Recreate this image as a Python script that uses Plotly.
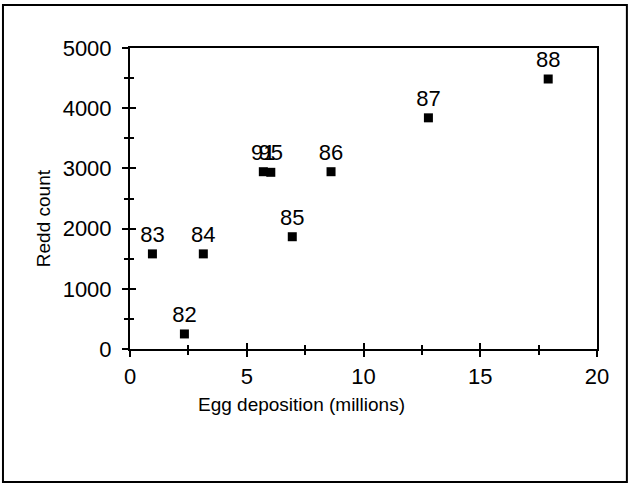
import plotly.graph_objects as go

# Data
years = ["82", "83", "84", "85", "86", "87", "88", "91", "95"]
egg_deposition = [2.33, 0.96, 3.14, 6.95, 8.61, 12.78, 17.91, 5.71, 6.03]
redd_count = [250, 1580, 1580, 1865, 2945, 3840, 4485, 2945, 2935]

x_range = [0, 20]
y_range = [0, 5000]
x_ticks = [0, 5, 10, 15, 20]
y_ticks = [0, 1000, 2000, 3000, 4000, 5000]

FONT = "Liberation Sans, Arial, Helvetica, sans-serif"

fig = go.Figure()
fig.add_trace(go.Scatter(
    x=egg_deposition, y=redd_count, text=years,
    mode="markers+text", textposition="top center",
    marker=dict(symbol="square", size=9, color="black"),
    textfont=dict(family=FONT, size=22, color="black"),
    cliponaxis=False, showlegend=False, hoverinfo="skip",
))
# invisible copy to host the inside-tick overlay axes
fig.add_trace(go.Scatter(
    x=egg_deposition, y=redd_count, xaxis="x2", yaxis="y2",
    mode="markers", marker=dict(opacity=0), showlegend=False, hoverinfo="skip",
))

tick_style = dict(showgrid=False, zeroline=False, tickcolor="black", tickwidth=1.5)

fig.update_layout(
    width=629, height=486,
    margin=dict(l=130, r=32, t=48, b=137),
    paper_bgcolor="white", plot_bgcolor="white",
    font=dict(family=FONT, size=20, color="black"),
    xaxis=dict(range=x_range, tickvals=x_ticks, ticks="outside", ticklen=6,
               mirror=True, showline=True, linecolor="black", linewidth=2,
               minor=dict(dtick=2.5, ticks="outside", ticklen=4, tickcolor="black"),
               tickfont=dict(size=22), ticklabelstandoff=1, **tick_style),
    yaxis=dict(range=y_range, tickvals=y_ticks, ticks="outside", ticklen=6,
               mirror=True, showline=True, linecolor="black", linewidth=2,
               minor=dict(dtick=500, ticks="outside", ticklen=4, tickcolor="black"),
               tickfont=dict(size=22), ticklabelstandoff=6, **tick_style),
    xaxis2=dict(range=x_range, tickvals=x_ticks, ticks="inside", ticklen=6,
                overlaying="x", anchor="y2", side="bottom", showticklabels=False,
                showline=False,
                minor=dict(dtick=2.5, ticks="inside", ticklen=4, tickcolor="black"),
                **tick_style),
    yaxis2=dict(range=y_range, tickvals=y_ticks, ticks="inside", ticklen=6,
                overlaying="y", anchor="x2", side="left", showticklabels=False,
                showline=False,
                minor=dict(dtick=500, ticks="inside", ticklen=4, tickcolor="black"),
                **tick_style),
    annotations=[
        dict(text="Egg deposition (millions)", xref="paper", yref="paper",
             x=0.368, y=-0.183, showarrow=False, font=dict(size=19),
             xanchor="center", yanchor="middle"),
        dict(text="Redd count", xref="paper", yref="paper", textangle=-90,
             x=-0.186, y=0.435, showarrow=False, font=dict(size=19),
             xanchor="center", yanchor="middle"),
    ],
    shapes=[
        dict(type="rect", xref="paper", yref="paper",
             x0=-0.272, x1=1.064, y0=-0.442, y1=1.143,
             line=dict(color="black", width=2)),
    ],
)

fig.write_html("out.html")
